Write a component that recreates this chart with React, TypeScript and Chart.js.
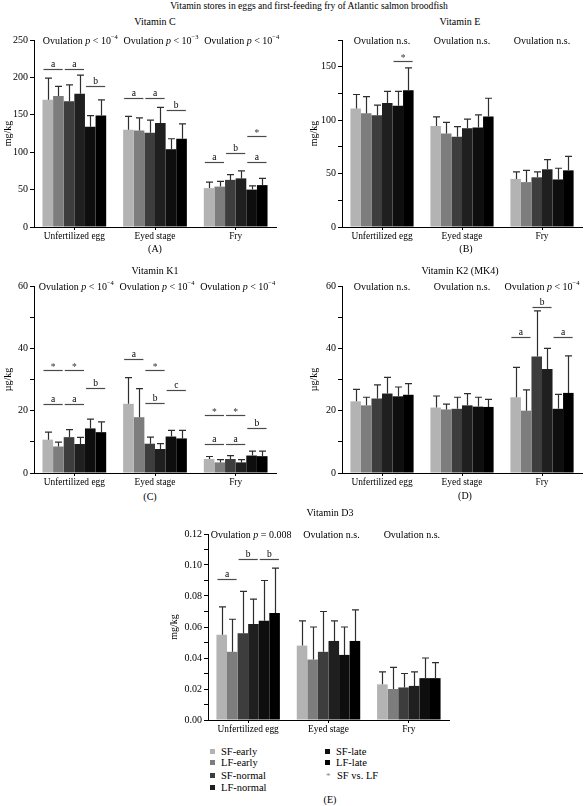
import React, { useEffect, useRef } from 'react';
import { Chart, registerables } from 'chart.js';

Chart.register(...registerables);

const SERIF = "'Liberation Serif', 'Times New Roman', serif";

const stages = ['Unfertilized egg', 'Eyed stage', 'Fry'];
const groups = ['SF-early', 'LF-early', 'SF-normal', 'LF-normal', 'SF-late', 'LF-late'];
const groupColors = ['#b3b3b3', '#7d7d7d', '#3d3d3d', '#1f1f1f', '#0e0e0e', '#000000'];

// Each row is one broodfish group; columns follow `stages`.
// Significance marks: [stage, bar pair (0 = early, 1 = normal, 2 = late), level, label]

// Vitamin C, mg/kg
const vitCMean = [[170, 130, 52], [175, 129, 54], [168, 126, 63], [178, 139, 65], [134, 104, 50], [149, 118, 56]];
const vitCSd = [[29, 18, 8], [13, 17, 7], [22, 17, 7], [25, 21, 10], [15, 14, 5], [21, 20, 9]];
const vitCOvulation = ['Ovulation p < 10^-4', 'Ovulation p < 10^-3', 'Ovulation p < 10^-4'];
const vitCSig = [
  [0, 0, 211, 'a'], [0, 1, 211, 'a'], [0, 2, 188, 'b'],
  [1, 0, 173, 'a'], [1, 1, 173, 'a'], [1, 2, 156, 'b'],
  [2, 0, 87, 'a'], [2, 1, 99, 'b'], [2, 2, 87, 'a'], [2, 2, 122, '*'],
];

// Vitamin E, mg/kg
const vitEMean = [[111, 94.5, 45], [106.5, 87.5, 42], [104.5, 84.5, 46.5], [116, 92.5, 54], [113.5, 93, 44.5], [128, 103.5, 53]];
const vitESd = [[13, 8.5, 6.5], [15.5, 10.5, 11], [9.5, 9.5, 5], [11, 8.5, 9], [13.5, 12, 10.5], [21, 17, 13]];
const vitEOvulation = ['Ovulation n.s.', 'Ovulation n.s.', 'Ovulation n.s.'];
const vitESig = [[0, 2, 155, '*']];

// Vitamin K1, µg/kg
const vitK1Mean = [[10.7, 22.2, 4.5], [8.5, 17.9, 3.4], [11.5, 9.4, 4.5], [9.3, 7.7, 3.4], [14.3, 11.7, 5.6], [13.1, 11.1, 5.4]];
const vitK1Sd = [[2.4, 8.4, 0.8], [1.4, 9.2, 0.9], [2.4, 2.1, 1.1], [2.1, 1.7, 0.9], [3.0, 2.0, 1.4], [3.3, 2.6, 1.6]];
const vitK1Ovulation = ['Ovulation p < 10^-4', 'Ovulation p < 10^-4', 'Ovulation p < 10^-4'];
const vitK1Sig = [
  [0, 0, 33.2, '*'], [0, 1, 33.2, '*'], [0, 0, 22, 'a'], [0, 1, 22, 'a'], [0, 2, 27.3, 'b'],
  [1, 0, 36.5, 'a'], [1, 1, 33.2, '*'], [1, 1, 22.4, 'b'], [1, 2, 26.5, 'c'],
  [2, 0, 18.5, '*'], [2, 1, 18.5, '*'], [2, 0, 9.4, 'a'], [2, 1, 9.4, 'a'], [2, 2, 14.5, 'b'],
];

// Vitamin K2 (MK4), µg/kg
const vitK2Mean = [[23, 21, 24.3], [21.7, 20.4, 20], [23.9, 20.6, 37.4], [25.5, 21.7, 33.4], [24.6, 21.3, 20.6], [25.1, 21.2, 25.7]];
const vitK2Sd = [[3.8, 3.7, 9.6], [2.6, 1.7, 6.7], [4.4, 3.7, 14.6], [5.2, 3.8, 6.6], [3.0, 3.0, 4.6], [3.6, 2.4, 11.9]];
const vitK2Ovulation = ['Ovulation n.s.', 'Ovulation n.s.', 'Ovulation p < 10^-4'];
const vitK2Sig = [[2, 0, 43.5, 'a'], [2, 1, 53.2, 'b'], [2, 2, 43.5, 'a']];

// Vitamin D3, mg/kg
const vitD3Mean = [[0.055, 0.048, 0.023], [0.044, 0.039, 0.020], [0.056, 0.044, 0.021], [0.062, 0.051, 0.022], [0.064, 0.042, 0.027], [0.069, 0.051, 0.027]];
const vitD3Sd = [[0.018, 0.016, 0.008], [0.021, 0.021, 0.014], [0.027, 0.026, 0.009], [0.016, 0.013, 0.009], [0.026, 0.018, 0.013], [0.029, 0.020, 0.010]];
const vitD3Ovulation = ['Ovulation p = 0.008', 'Ovulation n.s.', 'Ovulation n.s.'];
const vitD3Sig = [[0, 0, 0.091, 'a'], [0, 1, 0.104, 'b'], [0, 2, 0.104, 'b']];

type Sig = (number | string)[];

// "Ovulation p < 10^-4": italic p, superscript exponent
function drawNote(ctx: CanvasRenderingContext2D, str: string, cx: number, cy: number) {
  const [base, sup] = str.split('^');
  const parts = base
    .split(/(\bp\b)/)
    .filter((t) => t.length > 0)
    .map((t) => ({ t, italic: t === 'p', sup: false }));
  if (sup) parts.push({ t: sup.replace('-', '\u2212'), italic: false, sup: true });
  const fontFor = (p: { italic: boolean; sup: boolean }) =>
    `${p.italic ? 'italic ' : ''}${p.sup ? 6.5 : 10}px ${SERIF}`;
  let total = 0;
  for (const p of parts) {
    ctx.font = fontFor(p);
    total += ctx.measureText(p.t).width;
  }
  let x = cx - total / 2;
  const baseY = cy + 3.5;
  ctx.textAlign = 'left';
  ctx.textBaseline = 'alphabetic';
  ctx.fillStyle = '#000';
  for (const p of parts) {
    ctx.font = fontFor(p);
    ctx.fillText(p.t, x, p.sup ? baseY - 4.5 : baseY);
    x += ctx.measureText(p.t).width;
  }
}

interface PanelProps {
  left: number;
  top: number;
  width: number;
  height: number;
  axisWidth: number;
  padRight: number;
  means: number[][];
  sds: number[][];
  notes: string[];
  sig: Sig[];
  max: number;
  step: number;
  labelStep: number;
  decimals: number;
  yTitle: string;
  noteShift: number;
}

function BarPanel(props: PanelProps) {
  const ref = useRef<HTMLCanvasElement>(null);

  useEffect(() => {
    const canvas = ref.current;
    if (!canvas) return;
    const { means, sds, notes, sig, max, step, labelStep, decimals, yTitle, axisWidth, padRight, noteShift } = props;

    const overlay = {
      id: 'overlay',
      afterDatasetsDraw(chart: any) {
        const ctx: CanvasRenderingContext2D = chart.ctx;
        const yScale = chart.scales.y;
        const xScale = chart.scales.x;
        ctx.save();

        // upper error bars (SD)
        ctx.strokeStyle = '#2e2e2e';
        ctx.lineWidth = 1.2;
        means.forEach((row, i) => {
          const meta = chart.getDatasetMeta(i);
          row.forEach((m, j) => {
            const el = meta.data[j];
            const yTop = yScale.getPixelForValue(m + sds[i][j]);
            const x = Math.round(el.x) + 0.5;
            ctx.beginPath();
            ctx.moveTo(x, el.y);
            ctx.lineTo(x, yTop);
            ctx.moveTo(x - 3.5, yTop);
            ctx.lineTo(x + 3.5, yTop);
            ctx.stroke();
          });
        });

        // significance lines and letters
        sig.forEach((s) => {
          const stage = s[0] as number;
          const pair = s[1] as number;
          const level = s[2] as number;
          const label = s[3] as string;
          const a = chart.getDatasetMeta(pair * 2).data[stage];
          const b = chart.getDatasetMeta(pair * 2 + 1).data[stage];
          const xl = a.x - a.width / 2 + 1;
          const xr = b.x + b.width / 2 - 1;
          const y = Math.round(yScale.getPixelForValue(level)) + 0.5;
          ctx.strokeStyle = '#4a4a4a';
          ctx.lineWidth = 1.2;
          ctx.beginPath();
          ctx.moveTo(xl, y);
          ctx.lineTo(xr, y);
          ctx.stroke();
          ctx.fillStyle = label === '*' ? '#333' : '#000';
          ctx.font = `9.5px ${SERIF}`;
          ctx.textAlign = 'center';
          ctx.textBaseline = 'alphabetic';
          ctx.fillText(label, (xl + xr) / 2, label === '*' ? y - 1 : y - 3);
        });

        // ovulation effect per stage
        notes.forEach((n, s) => {
          drawNote(ctx, n, xScale.getPixelForValue(s) + noteShift, chart.chartArea.top);
        });
        ctx.restore();
      },
    };

    const isMajor = (v: number) => Math.abs(v / labelStep - Math.round(v / labelStep)) < 1e-6;

    const chart = new Chart(canvas, {
      type: 'bar',
      data: {
        labels: stages,
        datasets: groups.map((g, i) => ({
          label: g,
          data: means[i],
          backgroundColor: groupColors[i],
          borderWidth: 0,
          categoryPercentage: 0.79,
          barPercentage: 1.0,
        })),
      },
      options: {
        animation: false,
        responsive: false,
        maintainAspectRatio: false,
        layout: { padding: { top: 10, right: padRight, left: 0, bottom: 0 } },
        plugins: { legend: { display: false }, tooltip: { enabled: false }, title: { display: false } },
        scales: {
          x: {
            offset: true,
            ticks: { font: { family: SERIF, size: 9.4 }, color: '#000', padding: 1, maxRotation: 0, autoSkip: false },
            grid: { display: true, offset: false, drawOnChartArea: false, drawTicks: true, tickLength: 3, color: '#000' },
            border: { display: true, color: '#000', width: 1 },
            afterFit: (s: any) => {
              s.height = 18;
            },
          },
          y: {
            min: 0,
            max,
            ticks: {
              stepSize: step,
              autoSkip: false,
              font: { family: SERIF, size: 10 },
              color: '#000',
              padding: 2,
              callback: (v: any) => (isMajor(Number(v)) ? Number(v).toFixed(decimals) : ''),
            },
            grid: { display: true, drawOnChartArea: false, drawTicks: true, tickLength: 4, color: '#000' },
            border: { display: true, color: '#000', width: 1 },
            title: {
              display: true,
              text: yTitle,
              font: { family: SERIF, size: 10 },
              color: '#000',
              padding: { top: 2, bottom: 0 },
            },
            afterFit: (s: any) => {
              s.width = axisWidth;
            },
          },
        },
      } as any,
      plugins: [overlay],
    });
    return () => chart.destroy();
  }, []);

  return (
    <canvas
      ref={ref}
      width={props.width}
      height={props.height}
      style={{ position: 'absolute', left: props.left, top: props.top, width: props.width, height: props.height }}
    />
  );
}

function Label({ x, y, text, size = 10 }: { x: number; y: number; text: string; size?: number }) {
  return (
    <div
      style={{
        position: 'absolute',
        left: x - 200,
        width: 400,
        top: y - size * 0.6,
        lineHeight: `${size * 1.2}px`,
        fontSize: size,
        textAlign: 'center',
        whiteSpace: 'nowrap',
      }}
    >
      {text}
    </div>
  );
}

function LegendRow({ x, y, color, text, star }: { x: number; y: number; color?: string; text: string; star?: boolean }) {
  return (
    <div style={{ position: 'absolute', left: x, top: y - 6.5, height: 13, lineHeight: '13px', fontSize: 10.5, whiteSpace: 'nowrap' }}>
      {star ? (
        <span style={{ display: 'inline-block', width: 11, color: '#888', fontSize: 9, textAlign: 'left', paddingLeft: 1 }}>*</span>
      ) : (
        <span style={{ display: 'inline-block', width: 5, height: 5, background: color, marginRight: 6, verticalAlign: 'middle', position: 'relative', top: -1 }} />
      )}
      {text}
    </div>
  );
}

export default function App() {
  return (
    <div
      style={{
        position: 'absolute',
        left: 0,
        top: 0,
        width: 584,
        height: 806,
        background: '#fff',
        fontFamily: SERIF,
        color: '#000',
      }}
    >
      <Label x={309} y={6} size={9.6} text="Vitamin stores in eggs and first-feeding fry of Atlantic salmon broodfish" />

      <Label x={155} y={22} text="Vitamin C" />
      <BarPanel left={0} top={30} width={292} height={215} axisWidth={34} padRight={16}
        means={vitCMean} sds={vitCSd} notes={vitCOvulation} sig={vitCSig}
        max={250} step={50} labelStep={50} decimals={0} yTitle="mg/kg" noteShift={6} />
      <Label x={155} y={249} text="(A)" />

      <Label x={460} y={22} text="Vitamin E" />
      <BarPanel left={306} top={30} width={278} height={215} axisWidth={36} padRight={2}
        means={vitEMean} sds={vitESd} notes={vitEOvulation} sig={vitESig}
        max={175} step={25} labelStep={50} decimals={0} yTitle="mg/kg" noteShift={0} />
      <Label x={466} y={249} text="(B)" />

      <Label x={155} y={271} text="Vitamin K1" />
      <BarPanel left={0} top={276} width={292} height={215} axisWidth={34} padRight={16}
        means={vitK1Mean} sds={vitK1Sd} notes={vitK1Ovulation} sig={vitK1Sig}
        max={60} step={10} labelStep={20} decimals={0} yTitle="µg/kg" noteShift={2} />
      <Label x={150} y={497} text="(C)" />

      <Label x={460} y={271} text="Vitamin K2 (MK4)" />
      <BarPanel left={306} top={276} width={278} height={215} axisWidth={36} padRight={2}
        means={vitK2Mean} sds={vitK2Sd} notes={vitK2Ovulation} sig={vitK2Sig}
        max={60} step={10} labelStep={20} decimals={0} yTitle="µg/kg" noteShift={0} />
      <Label x={465} y={496} text="(D)" />

      <Label x={330} y={513} text="Vitamin D3" />
      <BarPanel left={166} top={524} width={285} height={214} axisWidth={42} padRight={2}
        means={vitD3Mean} sds={vitD3Sd} notes={vitD3Ovulation} sig={vitD3Sig}
        max={0.12} step={0.01} labelStep={0.02} decimals={2} yTitle="mg/kg" noteShift={3} />

      <LegendRow x={210} y={751} color={groupColors[0]} text={groups[0]} />
      <LegendRow x={210} y={762.5} color={groupColors[1]} text={groups[1]} />
      <LegendRow x={210} y={775} color={groupColors[2]} text={groups[2]} />
      <LegendRow x={210} y={787.5} color={groupColors[3]} text={groups[3]} />
      <LegendRow x={325} y={751} color={groupColors[4]} text={groups[4]} />
      <LegendRow x={325} y={762.5} color={groupColors[5]} text={groups[5]} />
      <LegendRow x={325} y={775} star text="SF vs. LF" />

      <Label x={330} y={800} text="(E)" />
    </div>
  );
}
